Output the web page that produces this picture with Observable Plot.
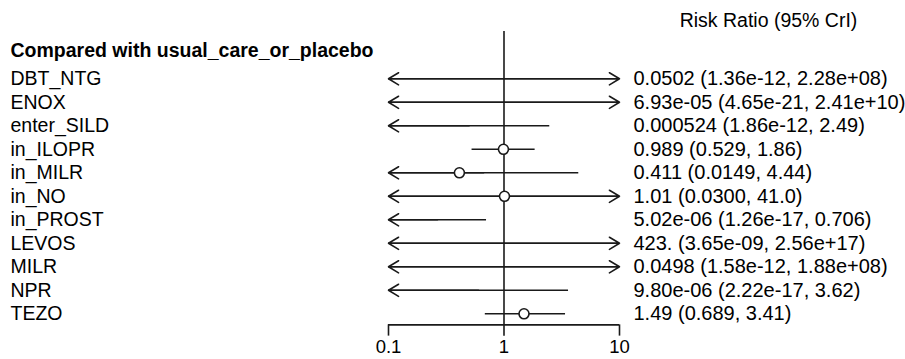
<!DOCTYPE html>
<html>
<head>
<meta charset="utf-8">
<script src="https://cdn.jsdelivr.net/npm/d3@7"></script>
<script src="https://cdn.jsdelivr.net/npm/@observablehq/plot@0.6"></script>
<style>
  html, body { margin: 0; padding: 0; background: white; }
</style>
</head>
<body>
<div id="chart"></div>
<script>
const treatments = ["DBT_NTG", "ENOX", "enter_SILD", "in_ILOPR", "in_MILR", "in_NO", "in_PROST", "LEVOS", "MILR", "NPR", "TEZO"];
const estText = ["0.0502", "6.93e-05", "0.000524", "0.989", "0.411", "1.01", "5.02e-06", "423.", "0.0498", "9.80e-06", "1.49"];
const loText  = ["1.36e-12", "4.65e-21", "1.86e-12", "0.529", "0.0149", "0.0300", "1.26e-17", "3.65e-09", "1.58e-12", "2.22e-17", "0.689"];
const hiText  = ["2.28e+08", "2.41e+10", "2.49", "1.86", "4.44", "41.0", "0.706", "2.56e+17", "1.88e+08", "3.62", "3.41"];
const tickValues = [0.1, 1, 10];
const tickLabels = ["0.1", "1", "10"];
const header = "Compared with usual_care_or_placebo";
const columnTitle = "Risk Ratio (95% CrI)";

const xMin = 0.1, xMax = 10;
const rows = treatments.map((name, i) => {
  const est = Number(estText[i]), lo = Number(loText[i]), hi = Number(hiText[i]);
  const loC = Math.max(lo, xMin), hiC = Math.min(hi, xMax);
  return {
    i, name, est, lo, hi, loC, hiC,
    mid: Math.sqrt(loC * hiC),
    label: `${estText[i]} (${loText[i]}, ${hiText[i]})`
  };
});

const ink = "#1a1a1a";
const font = "Liberation Sans, Arial, Helvetica, sans-serif";
const fs = 19.5;

const chart = Plot.plot({
  width: 905,
  height: 359,
  margin: 0,
  style: { background: "white", fontFamily: font },
  x: { type: "log", domain: [xMin, xMax], range: [388, 619], axis: null },
  y: { type: "linear", domain: [0, 10], range: [78.3, 313.3], axis: null },
  marks: [
    // reference line at RR = 1
    Plot.ruleX([1], { y1: -2.01, y2: 10.47, stroke: ink, strokeWidth: 1.6 }),
    // axis line and ticks
    Plot.ruleY([10.47], { x1: xMin, x2: xMax, stroke: ink, strokeWidth: 1.6 }),
    Plot.ruleX(tickValues, { y1: 10.47, y2: 10.95, stroke: ink, strokeWidth: 1.6 }),
    Plot.text(tickValues, { x: d => d, y: 11.42, text: (d, i) => tickLabels[i], fontSize: 18.5, fill: "black" }),
    // credible intervals
    Plot.ruleY(rows, { y: "i", x1: "loC", x2: "hiC", stroke: ink, strokeWidth: 1.6 }),
    Plot.arrow(rows.filter(d => d.lo < xMin), { x1: "mid", x2: "loC", y1: "i", y2: "i", stroke: ink, strokeWidth: 1.6, headLength: 11, headAngle: 62 }),
    Plot.arrow(rows.filter(d => d.hi > xMax), { x1: "mid", x2: "hiC", y1: "i", y2: "i", stroke: ink, strokeWidth: 1.6, headLength: 11, headAngle: 62 }),
    // point estimates within range
    Plot.dot(rows.filter(d => d.est >= xMin && d.est <= xMax), { x: "est", y: "i", r: 5, fill: "white", stroke: ink, strokeWidth: 1.6 }),
    // labels
    Plot.text(rows, { y: "i", text: "name", frameAnchor: "left", dx: 10, textAnchor: "start", fontSize: fs, fill: "black" }),
    Plot.text(rows, { x: () => xMax, y: "i", text: "label", dx: 14, textAnchor: "start", fontSize: 20, fill: "black" }),
    Plot.text([header], { y: -1.2, text: d => d, frameAnchor: "left", dx: 10, textAnchor: "start", fontSize: fs, fontWeight: "bold", fill: "black" }),
    Plot.text([columnTitle], { x: () => xMax, y: -2.48, text: d => d, dx: 149, textAnchor: "middle", fontSize: fs, fill: "black" })
  ]
});

document.getElementById("chart").appendChild(chart);
</script>
</body>
</html>
